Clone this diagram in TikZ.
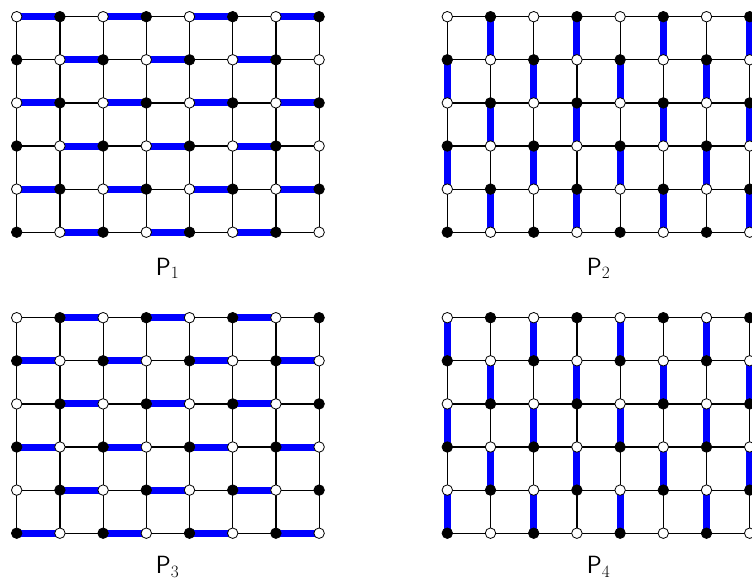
\documentclass[tikz,border=0pt]{standalone}
\usetikzlibrary{backgrounds}
\begin{document}
\begin{tikzpicture}[x=1pt,y=-1pt,
  wv/.style={circle,draw=black,fill=white,line width=0.8pt,minimum size=10.5pt,inner sep=0pt},
  bv/.style={circle,draw=black,fill=black,line width=0.8pt,minimum size=10.5pt,inner sep=0pt},
  gridline/.style={draw=black,line width=1.2pt},
  match/.style={draw=blue,line width=7pt},
  lab/.style={font=\fontsize{25}{30}\selectfont,anchor=base,inner sep=0pt}]
\useasboundingbox (0,0) rectangle (752,581);
\clip (0,0) rectangle (752,581);
\newcommand\mkgrid[3]{%
  \foreach \i in {0,...,7} {
    \foreach \j in {0,...,5} {
      \pgfmathtruncatemacro\pty{mod(\i+\j,2)}
      \ifnum\pty=0
        \node[wv] (#1-\i-\j) at ({#2+\i*43.2},{#3+\j*43.1}) {};
      \else
        \node[bv] (#1-\i-\j) at ({#2+\i*43.2},{#3+\j*43.1}) {};
      \fi
    }
  }
  \begin{pgfonlayer}{background}
    \foreach \i [evaluate=\i as \ip using int(\i+1)] in {0,...,6} {
      \foreach \j in {0,...,5} {
        \draw[gridline] (#1-\i-\j.center) -- (#1-\ip-\j.center);
      }
    }
    \foreach \i in {0,...,7} {
      \foreach \j [evaluate=\j as \jp using int(\j+1)] in {0,...,4} {
        \draw[gridline] (#1-\i-\j.center) -- (#1-\i-\jp.center);
      }
    }
  \end{pgfonlayer}
}
% grids
\mkgrid{a}{16.7}{16.7}
\mkgrid{b}{447.3}{16.7}
\mkgrid{c}{16.7}{317.7}
\mkgrid{d}{447.3}{317.7}
\begin{pgfonlayer}{background}
  % P1: horizontal matching
  \foreach \j in {0,2,4} {
    \foreach \i [evaluate=\i as \ip using int(\i+1)] in {0,2,4,6} {
      \draw[match] (a-\i-\j.center) -- (a-\ip-\j.center);
    }
  }
  \foreach \j in {1,3,5} {
    \foreach \i [evaluate=\i as \ip using int(\i+1)] in {1,3,5} {
      \draw[match] (a-\i-\j.center) -- (a-\ip-\j.center);
    }
  }
  % P3: horizontal matching
  \foreach \j in {0,2,4} {
    \foreach \i [evaluate=\i as \ip using int(\i+1)] in {1,3,5} {
      \draw[match] (c-\i-\j.center) -- (c-\ip-\j.center);
    }
  }
  \foreach \j in {1,3,5} {
    \foreach \i [evaluate=\i as \ip using int(\i+1)] in {0,2,4,6} {
      \draw[match] (c-\i-\j.center) -- (c-\ip-\j.center);
    }
  }
  % P2: vertical matching
  \foreach \i in {0,2,4,6} {
    \foreach \j [evaluate=\j as \jp using int(\j+1)] in {1,3} {
      \draw[match] (b-\i-\j.center) -- (b-\i-\jp.center);
    }
  }
  \foreach \i in {1,3,5,7} {
    \foreach \j [evaluate=\j as \jp using int(\j+1)] in {0,2,4} {
      \draw[match] (b-\i-\j.center) -- (b-\i-\jp.center);
    }
  }
  % P4: vertical matching
  \foreach \i in {0,2,4,6} {
    \foreach \j [evaluate=\j as \jp using int(\j+1)] in {0,2,4} {
      \draw[match] (d-\i-\j.center) -- (d-\i-\jp.center);
    }
  }
  \foreach \i in {1,3,5,7} {
    \foreach \j [evaluate=\j as \jp using int(\j+1)] in {1,3} {
      \draw[match] (d-\i-\j.center) -- (d-\i-\jp.center);
    }
  }
\end{pgfonlayer}
% labels
\node[lab] (l1) at (167.6,275) {$\mathsf{P}_1$};
\node[lab] (l2) at (598.5,275) {$\mathsf{P}_2$};
\node[lab] (l3) at (167.6,573.5) {$\mathsf{P}_3$};
\node[lab] (l4) at (598.5,573.5) {$\mathsf{P}_4$};
\end{tikzpicture}
\end{document}
